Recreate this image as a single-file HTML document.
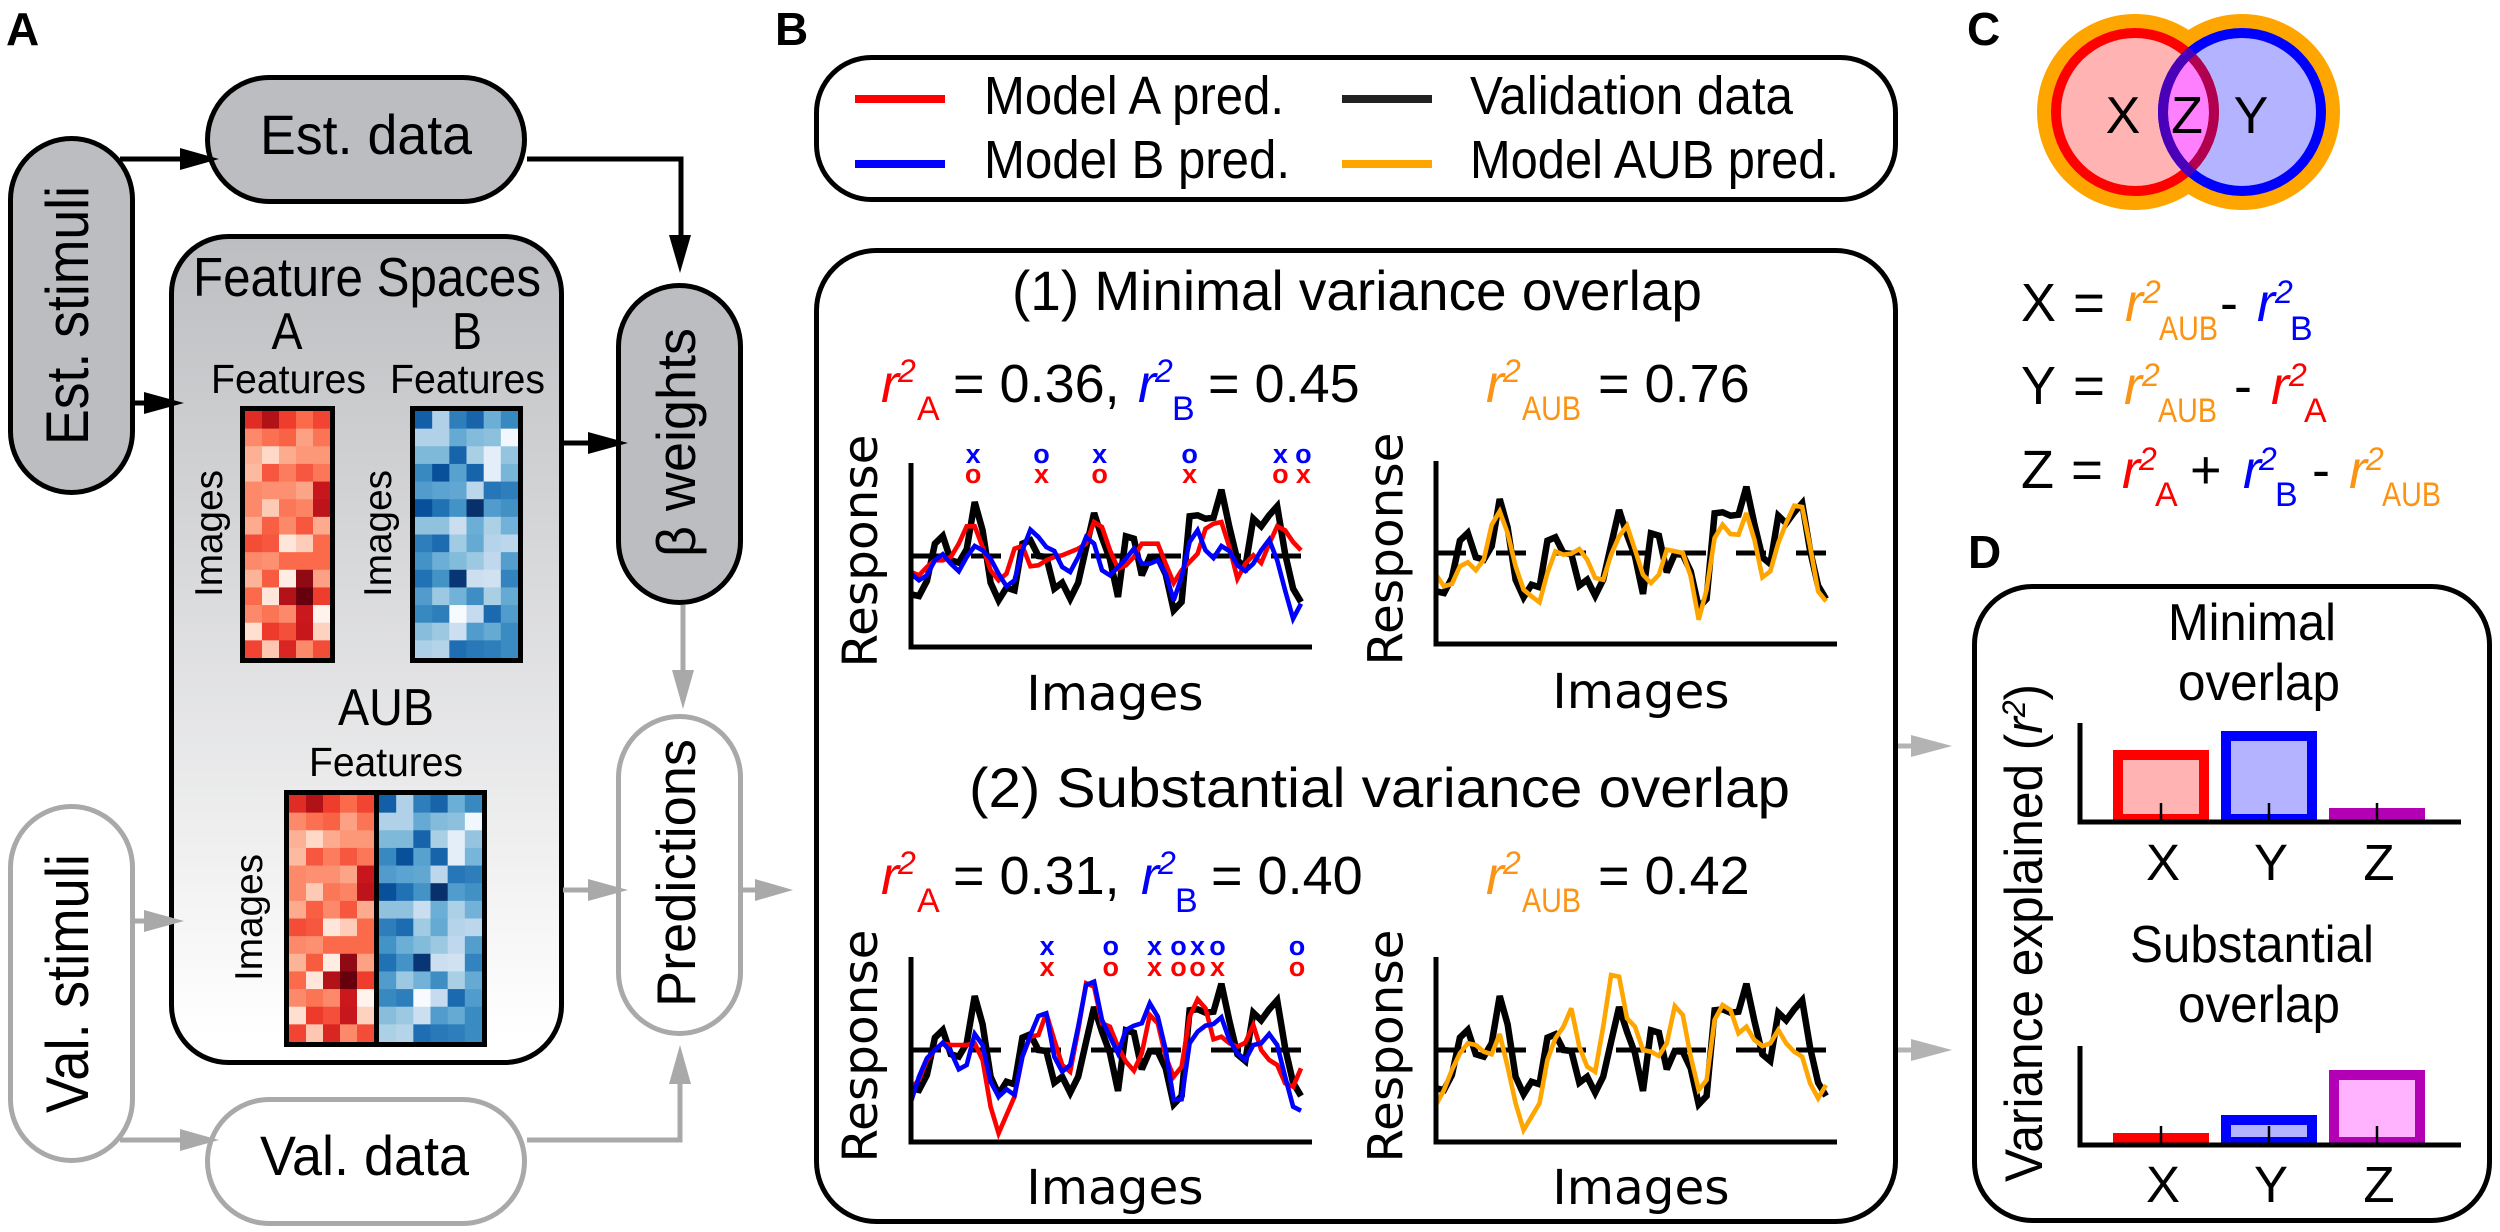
<!DOCTYPE html>
<html lang="en">
<head>
<meta charset="utf-8">
<title>Variance partitioning schematic</title>
<style>
html,body{margin:0;padding:0;background:#fff;}
svg{display:block;}
text{font-family:"Liberation Sans",sans-serif;fill:#000;}
.dj{font-family:"DejaVu Sans",sans-serif;}
.it{font-style:italic;}
.red{fill:#f00;}
.blue{fill:#00f;}
.org{fill:#fb9414;}
</style>
</head>
<body>
<svg id="fig" xmlns="http://www.w3.org/2000/svg" width="2500" height="1232" viewBox="0 0 2500 1232">
<defs>
<linearGradient id="fsGrad" x1="0" y1="0" x2="0" y2="1">
<stop offset="0" stop-color="#bdbec1"/><stop offset="0.97" stop-color="#ffffff"/>
</linearGradient>
<clipPath id="clipRedDisc"><circle cx="2135" cy="112" r="84"/></clipPath>
<clipPath id="clipBlueDisc"><circle cx="2242" cy="112" r="84"/></clipPath>
</defs>

<!-- Panel labels -->
<text x="6" y="45" font-size="46" font-weight="bold">A</text>
<text x="775" y="45" font-size="46" font-weight="bold">B</text>
<text x="1967" y="45" font-size="46" font-weight="bold">C</text>
<text x="1968" y="568" font-size="46" font-weight="bold">D</text>

<!-- Panel A flow -->
<g>
<rect x="171.5" y="236.5" width="390" height="826" rx="57" fill="url(#fsGrad)" stroke="#000" stroke-width="5"/>
<rect x="207.5" y="77.5" width="317" height="124" rx="62" fill="#bcbdc0" stroke="#000" stroke-width="5"/>
<rect x="10.5" y="138.5" width="122" height="354" rx="61" fill="#bcbdc0" stroke="#000" stroke-width="5"/>
<rect x="618.5" y="285.5" width="122" height="317" rx="61" fill="#bcbdc0" stroke="#000" stroke-width="5"/>
<rect x="618.5" y="716.5" width="122" height="317" rx="61" fill="#fff" stroke="#a9a9a9" stroke-width="5"/>
<rect x="10.5" y="806.5" width="122" height="354" rx="61" fill="#fff" stroke="#a9a9a9" stroke-width="5"/>
<rect x="207.5" y="1099.5" width="317" height="124" rx="62" fill="#fff" stroke="#a9a9a9" stroke-width="5"/>

<path d="M120 159H190" fill="none" stroke="#000" stroke-width="5"/>
<polygon points="180,148 219,159 180,170" fill="#000"/>
<path d="M527 159H681V240" fill="none" stroke="#000" stroke-width="5"/>
<polygon points="669,235 691,235 680,273" fill="#000"/>
<path d="M135 403H150" fill="none" stroke="#000" stroke-width="5"/>
<polygon points="144,392 184,403 144,414" fill="#000"/>
<path d="M564 443H595" fill="none" stroke="#000" stroke-width="5"/>
<polygon points="588,432 628,443 588,454" fill="#000"/>
<path d="M683 605V675" fill="none" stroke="#a9a9a9" stroke-width="5"/>
<polygon points="672,670 694,670 683,709" fill="#a9a9a9"/>
<path d="M563 890H595" fill="none" stroke="#a9a9a9" stroke-width="5"/>
<polygon points="588,879 628,890 588,901" fill="#a9a9a9"/>
<path d="M743 890H760" fill="none" stroke="#a9a9a9" stroke-width="5"/>
<polygon points="755,879 793,890 755,901" fill="#a9a9a9"/>
<path d="M135 921H150" fill="none" stroke="#a9a9a9" stroke-width="5"/>
<polygon points="144,910 184,921 144,932" fill="#a9a9a9"/>
<path d="M120 1140H190" fill="none" stroke="#a9a9a9" stroke-width="5"/>
<polygon points="180,1129 219,1140 180,1151" fill="#a9a9a9"/>
<path d="M527 1140H680V1080" fill="none" stroke="#a9a9a9" stroke-width="5"/>
<polygon points="669,1084 691,1084 680,1045" fill="#a9a9a9"/>

<text x="260" y="154" font-size="56" textLength="212" lengthAdjust="spacingAndGlyphs">Est. data</text>
<text transform="translate(88,445) rotate(-90)" font-size="60" textLength="259" lengthAdjust="spacingAndGlyphs">Est. stimuli</text>
<text transform="translate(695,557) rotate(-90)" font-size="55" textLength="229" lengthAdjust="spacingAndGlyphs">β weights</text>
<text transform="translate(695,1007) rotate(-90)" font-size="55" textLength="268" lengthAdjust="spacingAndGlyphs">Predictions</text>
<text transform="translate(88,1113) rotate(-90)" font-size="60" textLength="259" lengthAdjust="spacingAndGlyphs">Val. stimuli</text>
<text x="260" y="1175" font-size="56" textLength="209" lengthAdjust="spacingAndGlyphs">Val. data</text>
<text x="193" y="296" font-size="55" textLength="348" lengthAdjust="spacingAndGlyphs">Feature Spaces</text>
<text x="287" y="349" font-size="52" text-anchor="middle" textLength="31" lengthAdjust="spacingAndGlyphs">A</text>
<text x="467" y="349" font-size="52" text-anchor="middle" textLength="30" lengthAdjust="spacingAndGlyphs">B</text>
<text x="211" y="393" font-size="41" textLength="155" lengthAdjust="spacingAndGlyphs">Features</text>
<text x="390" y="393" font-size="41" textLength="155" lengthAdjust="spacingAndGlyphs">Features</text>
<text transform="translate(222,597) rotate(-90)" font-size="39" textLength="127" lengthAdjust="spacingAndGlyphs">Images</text>
<text transform="translate(391,597) rotate(-90)" font-size="39" textLength="127" lengthAdjust="spacingAndGlyphs">Images</text>
<text x="338" y="725" font-size="52" textLength="96" lengthAdjust="spacingAndGlyphs">AUB</text>
<text x="309" y="776" font-size="41" textLength="154" lengthAdjust="spacingAndGlyphs">Features</text>
<text transform="translate(262,981) rotate(-90)" font-size="39" textLength="127" lengthAdjust="spacingAndGlyphs">Images</text>
<g id="heatmaps"></g>
</g>

<!-- Panel B legend -->
<g>
<rect x="816.5" y="57.5" width="1079" height="142" rx="55" fill="#fff" stroke="#000" stroke-width="5"/>
<rect x="855" y="95" width="90" height="8" fill="#f00"/>
<rect x="855" y="160" width="90" height="8" fill="#00f"/>
<rect x="1342" y="95" width="90" height="8" fill="#222"/>
<rect x="1342" y="160" width="90" height="8" fill="#ffa500"/>
<text x="984" y="114" font-size="54" textLength="300" lengthAdjust="spacingAndGlyphs">Model A pred.</text>
<text x="984" y="178" font-size="54" textLength="306" lengthAdjust="spacingAndGlyphs">Model B pred.</text>
<text x="1470" y="114" font-size="54" textLength="323" lengthAdjust="spacingAndGlyphs">Validation data</text>
<text x="1470" y="178" font-size="54" textLength="369" lengthAdjust="spacingAndGlyphs">Model AUB pred.</text>
</g>

<!-- Panel B main -->
<rect x="816.5" y="250.5" width="1079" height="971" rx="60" fill="#fff" stroke="#000" stroke-width="5"/>
<text x="1012" y="310" font-size="56" textLength="690" lengthAdjust="spacingAndGlyphs">(1) Minimal variance overlap</text>
<text x="969" y="807" font-size="56" textLength="821" lengthAdjust="spacingAndGlyphs">(2) Substantial variance overlap</text>

<g>
<text x="881" y="402" font-size="54" class="it red">r</text><text x="898" y="382" font-size="32" class="it red">2</text><text x="917" y="420" font-size="34" class="red">A</text>
<text x="953" y="402" font-size="54">= 0.36,</text>
<text x="1138" y="402" font-size="54" class="it blue">r</text><text x="1155" y="382" font-size="32" class="it blue">2</text><text x="1172" y="420" font-size="34" class="blue">B</text>
<text x="1208" y="402" font-size="54">= 0.45</text>
</g>
<g>
<text x="1486" y="402" font-size="54" class="it org">r</text><text x="1503" y="382" font-size="32" class="it org">2</text><text x="1522" y="420" font-size="34" class="org" textLength="59" lengthAdjust="spacingAndGlyphs">AUB</text>
<text x="1598" y="402" font-size="54">= 0.76</text>
</g>
<g>
<text x="881" y="894" font-size="54" class="it red">r</text><text x="898" y="874" font-size="32" class="it red">2</text><text x="917" y="912" font-size="34" class="red">A</text>
<text x="953" y="894" font-size="54">= 0.31,</text>
<text x="1141" y="894" font-size="54" class="it blue">r</text><text x="1158" y="874" font-size="32" class="it blue">2</text><text x="1175" y="912" font-size="34" class="blue">B</text>
<text x="1211" y="894" font-size="54">= 0.40</text>
</g>
<g>
<text x="1486" y="894" font-size="54" class="it org">r</text><text x="1503" y="874" font-size="32" class="it org">2</text><text x="1522" y="912" font-size="34" class="org" textLength="59" lengthAdjust="spacingAndGlyphs">AUB</text>
<text x="1598" y="894" font-size="54">= 0.42</text>
</g>
<g id="linePlots"></g>

<!-- Panel C -->
<g>
<circle cx="2135" cy="112" r="98" fill="#ffa500"/>
<circle cx="2242" cy="112" r="98" fill="#ffa500"/>
<circle cx="2135" cy="112" r="79" fill="#ffb3b3"/>
<circle cx="2242" cy="112" r="79" fill="#b3b3ff"/>
<circle cx="2135" cy="112" r="79" fill="#ff80ff" clip-path="url(#clipBlueDisc)"/>
<circle cx="2135" cy="112" r="79" fill="none" stroke="#f00" stroke-width="10"/>
<circle cx="2242" cy="112" r="79" fill="none" stroke="#00f" stroke-width="10"/>
<circle cx="2135" cy="112" r="79" fill="none" stroke="#b0004f" stroke-width="10" clip-path="url(#clipBlueDisc)"/>
<circle cx="2242" cy="112" r="79" fill="none" stroke="#4a00b8" stroke-width="10" clip-path="url(#clipRedDisc)"/>
<text x="2123" y="133" font-size="52" text-anchor="middle">X</text>
<text x="2187" y="133" font-size="52" text-anchor="middle">Z</text>
<text x="2251" y="133" font-size="52" text-anchor="middle">Y</text>
</g>
<g>
<text x="2021" y="321" font-size="54" textLength="35" lengthAdjust="spacingAndGlyphs">X</text><text x="2073" y="321" font-size="54" textLength="32" lengthAdjust="spacingAndGlyphs">=</text>
<text x="2125" y="321" font-size="54" class="it org">r</text><text x="2143" y="303" font-size="32" class="it org">2</text><text x="2159" y="340" font-size="34" class="org" textLength="59" lengthAdjust="spacingAndGlyphs">AUB</text>
<text x="2220" y="321" font-size="54">-</text>
<text x="2257" y="321" font-size="54" class="it blue">r</text><text x="2275" y="303" font-size="32" class="it blue">2</text><text x="2290" y="340" font-size="34" class="blue">B</text>
</g>
<g>
<text x="2021" y="404" font-size="54" textLength="35" lengthAdjust="spacingAndGlyphs">Y</text><text x="2073" y="404" font-size="54" textLength="32" lengthAdjust="spacingAndGlyphs">=</text>
<text x="2124" y="404" font-size="54" class="it org">r</text><text x="2142" y="386" font-size="32" class="it org">2</text><text x="2158" y="422" font-size="34" class="org" textLength="59" lengthAdjust="spacingAndGlyphs">AUB</text>
<text x="2234" y="404" font-size="54">-</text>
<text x="2271" y="404" font-size="54" class="it red">r</text><text x="2289" y="386" font-size="32" class="it red">2</text><text x="2304" y="422" font-size="34" class="red">A</text>
</g>
<g>
<text x="2021" y="488" font-size="54" textLength="33" lengthAdjust="spacingAndGlyphs">Z</text><text x="2071" y="488" font-size="54" textLength="32" lengthAdjust="spacingAndGlyphs">=</text>
<text x="2122" y="488" font-size="54" class="it red">r</text><text x="2139" y="470" font-size="32" class="it red">2</text><text x="2155" y="506" font-size="34" class="red">A</text>
<text x="2190" y="488" font-size="54">+</text>
<text x="2243" y="488" font-size="54" class="it blue">r</text><text x="2259" y="470" font-size="32" class="it blue">2</text><text x="2275" y="506" font-size="34" class="blue">B</text>
<text x="2312" y="488" font-size="54">-</text>
<text x="2349" y="488" font-size="54" class="it org">r</text><text x="2366" y="470" font-size="32" class="it org">2</text><text x="2382" y="506" font-size="34" class="org" textLength="59" lengthAdjust="spacingAndGlyphs">AUB</text>
</g>

<!-- Panel D -->
<rect x="1974.5" y="586.5" width="515" height="634" rx="58" fill="#fff" stroke="#000" stroke-width="5"/>
<path d="M1898 746H1915" stroke="#b3b3b3" stroke-width="5" fill="none"/>
<polygon points="1911,735 1952,746 1911,757" fill="#b3b3b3"/>
<path d="M1898 1050H1915" stroke="#b3b3b3" stroke-width="5" fill="none"/>
<polygon points="1911,1039 1952,1050 1911,1061" fill="#b3b3b3"/>
<text x="2252" y="640" font-size="52" text-anchor="middle" textLength="168" lengthAdjust="spacingAndGlyphs">Minimal</text>
<text x="2259" y="700" font-size="52" text-anchor="middle" textLength="162" lengthAdjust="spacingAndGlyphs">overlap</text>
<text x="2252" y="962" font-size="52" text-anchor="middle" textLength="244" lengthAdjust="spacingAndGlyphs">Substantial</text>
<text x="2259" y="1022" font-size="52" text-anchor="middle" textLength="162" lengthAdjust="spacingAndGlyphs">overlap</text>
<text transform="translate(2042,1182) rotate(-90)" font-size="53" textLength="498" lengthAdjust="spacingAndGlyphs">Variance explained (<tspan class="it">r</tspan><tspan class="it" font-size="32" dy="-17">2</tspan><tspan dy="17">)</tspan></text>
<g id="barPlots"></g>
</svg>

<script>
// Feature matrices (0..1 intensity)
const featuresA = [
[.68,.84,.62,.50,.60],[.40,.48,.52,.33,.47],[.28,.15,.30,.36,.36],[.25,.55,.44,.55,.46],
[.40,.38,.38,.32,.76],[.40,.20,.46,.42,.80],[.30,.53,.40,.55,.30],[.58,.55,.09,.19,.50],
[.40,.38,.50,.50,.50],[.27,.54,.05,.92,.33],[.50,.09,.83,1.0,.62],[.40,.47,.40,.75,.01],
[.13,.63,.57,.76,.17],[.60,.21,.70,.40,.58]];
const featuresB = [
[.82,.32,.70,.80,.50,.66],[.32,.32,.52,.44,.42,.03],[.45,.45,.80,.34,.10,.40],[.66,.88,.56,.80,.10,.47],
[.58,.55,.53,.28,.73,.70],[.88,.75,.62,1.0,.58,.63],[.41,.41,.23,.50,.33,.48],[.70,.77,.37,.52,.30,.28],
[.62,.50,.44,.38,.27,.57],[.75,.62,.98,.22,.20,.68],[.58,.38,.48,.64,.34,.52],[.66,.70,0,.25,.78,.58],
[.43,.38,.22,.58,.52,.65],[.33,.30,.76,.72,.70,.65]];

// Responses per image
const validationData = [-1.15,-1.2,-.75,.37,.6,-.13,-.2,.2,1.62,.77,-.8,-1.33,-.95,-1.03,.37,.47,0,-.03,-.98,-.8,-1.28,-.8,.25,1.29,.55,-.1,-1.23,.59,.52,-.58,-.03,-.05,-.55,-1.63,-1.38,1.19,1.22,1.12,1.15,1.99,.87,-.13,-.33,1.12,.89,1.22,1.49,.07,-.98,-1.38];
const modelA1 = [-.48,-.58,-.33,-.13,-.13,-.03,.37,.89,.89,.27,-.43,-.73,-.53,.22,.30,-.31,-.28,-.13,-.03,.02,.12,.22,.37,1.02,.87,.17,-.38,-.28,-.03,.37,.37,.37,-.23,-.81,-.43,-.18,.07,.82,.97,1.02,.27,-.68,-.23,.02,-.21,.37,.89,.77,.42,.17];
const modelB1 = [-.53,-.73,-.58,-.13,.05,-.23,-.46,-.03,.30,.17,-.08,-.53,-.91,-.73,.17,.79,.57,.27,.15,-.33,-.48,-.03,.57,.37,-.43,-.58,-.33,-.08,.22,-.23,-.23,-.13,-.53,-1.33,-.63,.42,.77,.17,-.06,.30,.15,-.28,-.45,-.23,.17,.49,-.13,-1.03,-1.88,-1.43];
const modelAUB1 = [-.65,-1.0,-.93,-.4,-.28,-.52,-.2,.85,1.25,.6,-.4,-1.1,-1.3,-1.48,-.6,.05,-.05,-.02,.12,-.2,-.75,-.8,-.05,.5,.82,.1,-.65,-.9,-.65,.1,.05,0,-.7,-2.0,-1.1,.45,.85,.57,.55,1.2,.4,-.73,-.55,.3,.9,1.42,1.38,.2,-1.15,-1.45];
const modelA2 = [-1.15,-.9,-.3,0,.2,.15,.15,.15,.2,-.3,-1.7,-2.5,-1.95,-1.4,-.2,.4,.45,1.1,.3,-.45,-.65,.6,2.0,1.9,.8,.7,.1,-.35,-.62,-.1,1.05,.8,-.2,-.8,-.5,1.0,1.52,1.25,.32,.4,.2,.1,.22,.75,0,-.3,-.45,-1.0,-1.1,-.55];
const modelB2 = [-1.55,-.8,-.25,0,.22,-.05,-.58,-.45,.48,.15,-.95,-1.4,-1.18,-1.35,-.2,.45,1.02,1.1,-.2,-.65,-.45,.7,1.95,2.05,.9,.4,-.1,.6,.73,.8,1.4,1.0,0,-1.5,-1.48,.2,.55,.73,.78,.98,.3,-.1,-.3,.15,.2,.48,.15,-.8,-1.7,-1.82];
const modelAUB2 = [-1.65,-1.2,-.6,-.1,.2,.15,-.05,-.13,.48,-.5,-1.6,-2.4,-2.0,-1.6,-.3,.35,.7,1.25,.1,-.5,-.65,.7,2.25,2.2,.95,.7,0,-.05,-.18,.2,1.32,1.05,-.2,-1.2,-.9,.9,1.35,1.2,.5,.7,.3,.12,.2,.6,.2,-.05,-.2,-1.0,-1.45,-1.05];

// Images flagged above the plots
const markerImages1 = [7.8,16.4,23.7,35,46.4,49.3];
const markerBlue1 = ["x","o","x","o","x","o"];
const markerRed1 = ["o","x","o","x","o","x"];
const markerImages2 = [17.1,25.1,30.6,33.6,36,38.5,48.5];
const markerBlue2 = ["x","o","x","o","x","o","o"];
const markerRed2 = ["x","o","x","o","o","x","o"];

// Bars
const barCategories = ["X","Y","Z"];
const minimalBars = [.72,.91,.14];
const substantialBars = [.12,.30,.75];

const NS = "http://www.w3.org/2000/svg";
function mk(tag, attrs, parent){
  const el = document.createElementNS(NS, tag);
  for (const k in attrs) el.setAttribute(k, attrs[k]);
  parent.appendChild(el);
  return el;
}
function ramp(stops, t){
  const p = Math.max(0, Math.min(1, t)) * (stops.length - 1);
  const i = Math.min(Math.floor(p), stops.length - 2), f = p - i;
  const a = stops[i], b = stops[i + 1];
  return "rgb(" + [0,1,2].map(c => Math.round(a[c] + (b[c] - a[c]) * f)).join(",") + ")";
}
const REDS = [[255,245,240],[254,224,210],[252,187,161],[252,146,114],[251,106,74],[239,59,44],[203,24,29],[165,15,21],[103,0,13]];
const BLUES = [[247,251,255],[222,235,247],[198,219,239],[158,202,225],[107,174,214],[66,146,198],[33,113,181],[8,81,156],[8,48,107]];

function drawMatrix(parent, matrix, stops, x, y, w, h, name){
  const rows = matrix.length, cols = matrix[0].length;
  matrix.forEach((row, r) => row.forEach((v, c) => {
    const cell = mk("rect", {x: x + c * w / cols, y: y + r * h / rows, width: w / cols + .4, height: h / rows + .4, fill: ramp(stops, v)}, parent);
    
    
  }));
}
const hm = document.getElementById("heatmaps");
function frame(x, y, w, h, name){
  const f = mk("rect", {x: x - 2.5, y: y - 2.5, width: w + 5, height: h + 5, fill: "none", stroke: "#000", "stroke-width": 5}, hm);
  
  
}
drawMatrix(hm, featuresA, REDS, 245, 411, 85, 247, "heatmap-a");
frame(245, 411, 85, 247, "heatmap-a");
drawMatrix(hm, featuresB, BLUES, 415, 411, 103, 247, "heatmap-b");
frame(415, 411, 103, 247, "heatmap-b");
drawMatrix(hm, featuresA, REDS, 289, 795, 85, 247, "heatmap-aub-a");
drawMatrix(hm, featuresB, BLUES, 379, 795, 103, 247, "heatmap-aub-b");
frame(289, 795, 193, 247, "heatmap-aub");
const sep = mk("rect", {x: 374, y: 795, width: 5, height: 247, fill: "#000"}, hm);



// Line plots
const lp = document.getElementById("linePlots");
const STEP = 7.96, UNIT = 33.33;
function linePlot(cfg){
  const g = mk("g", {}, lp);
  
  
  const xs = i => cfg.x0 + i * STEP;
  const ys = v => cfg.zero - v * UNIT;
  const zero = mk("line", {x1: cfg.x0, x2: cfg.x0 + 391, y1: ys(0), y2: ys(0), stroke: "#000", "stroke-width": 5, "stroke-dasharray": "30 30"}, g);
  
  
  cfg.series.forEach(s => {
    const d = s.values.map((v, i) => (i ? "L" : "M") + xs(i).toFixed(1) + " " + ys(v).toFixed(1)).join("");
    const p = mk("path", {d: d, fill: "none", stroke: s.color, "stroke-width": s.width, "stroke-linejoin": "miter", "stroke-miterlimit": 3}, g);
    
    
  });
  const ax = mk("path", {d: "M" + cfg.x0 + " " + cfg.top + "V" + cfg.bottom + "H" + (cfg.x0 + 401), fill: "none", stroke: "#000", "stroke-width": 5}, g);
  
  
  const yl = mk("text", {transform: "translate(" + cfg.ylabX + "," + cfg.ylabY + ") rotate(-90)", "font-size": 48.5, "text-anchor": "middle", class: "dj"}, g);
  yl.textContent = "Response";
  
  
  const xl = mk("text", {x: cfg.xlabX, y: cfg.xlabY, "font-size": 48.5, "text-anchor": "middle", class: "dj"}, g);
  xl.textContent = "Images";
  
  
  if (cfg.markers) {
    cfg.markers.images.forEach((m, i) => {
      const b = mk("text", {x: xs(m), y: cfg.markers.blueY + 7, "font-size": 27, "font-weight": "bold", "text-anchor": "middle", fill: "#00f", style: "fill:#00f"}, g);
      b.textContent = cfg.markers.blue[i];
      
      
      const r = mk("text", {x: xs(m), y: cfg.markers.redY + 7, "font-size": 27, "font-weight": "bold", "text-anchor": "middle", fill: "#f00", style: "fill:#f00"}, g);
      r.textContent = cfg.markers.red[i];
      
      
    });
  }
}
const blk = {name: "validation-line", color: "#000", width: 6.5, values: validationData};
linePlot({name: "plot-minimal-ab", x0: 911, zero: 556, top: 463, bottom: 647, ylabX: 877, ylabY: 551, xlabX: 1115, xlabY: 710,
  series: [blk, {name: "model-a-line", color: "#f00", width: 4.6, values: modelA1}, {name: "model-b-line", color: "#00f", width: 4.6, values: modelB1}],
  markers: {images: markerImages1, blue: markerBlue1, red: markerRed1, blueY: 456, redY: 476}});
linePlot({name: "plot-minimal-aub", x0: 1436, zero: 553, top: 461, bottom: 644, ylabX: 1402.5, ylabY: 549, xlabX: 1641, xlabY: 708,
  series: [blk, {name: "model-aub-line", color: "#ffa500", width: 4.6, values: modelAUB1}]});
linePlot({name: "plot-substantial-ab", x0: 911, zero: 1050, top: 957, bottom: 1142, ylabX: 877, ylabY: 1046, xlabX: 1115, xlabY: 1204,
  series: [blk, {name: "model-a-line", color: "#f00", width: 4.6, values: modelA2}, {name: "model-b-line", color: "#00f", width: 4.6, values: modelB2}],
  markers: {images: markerImages2, blue: markerBlue2, red: markerRed2, blueY: 948, redY: 969}});
linePlot({name: "plot-substantial-aub", x0: 1436, zero: 1050, top: 957, bottom: 1142, ylabX: 1402.5, ylabY: 1046, xlabX: 1641, xlabY: 1204,
  series: [blk, {name: "model-aub-line", color: "#ffa500", width: 4.6, values: modelAUB2}]});

// Bar charts
const bp = document.getElementById("barPlots");
const BAR_STYLE = [
  {stroke: "#f00", fill: "#ffb3b3"},
  {stroke: "#00f", fill: "#b3b3ff"},
  {stroke: "#b400b4", fill: "#ffb3ff"}
];
function barChart(values, base, top, labelY, name){
  const g = mk("g", {}, bp);
  
  
  const xc = i => 2161 + i * 108;
  const h = v => v * 100;
  values.forEach((v, i) => {
    const H = h(v), S = BAR_STYLE[i];
    const r = mk("rect", {x: xc(i) - 43, y: base - H + 5, width: 86, height: Math.max(H - 8, 0.1), fill: S.fill, stroke: S.stroke, "stroke-width": 10}, g);
    
    
    const t = mk("line", {x1: xc(i), x2: xc(i), y1: base - 19, y2: base, stroke: "#000", "stroke-width": 2.5}, g);
    
    
    const l = mk("text", {x: xc(i) + 2, y: labelY, "font-size": 51, "text-anchor": "middle"}, g);
    l.textContent = barCategories[i];
    
    
  });
  const ax = mk("path", {d: "M2080 " + top + "V" + base + "H2461", fill: "none", stroke: "#000", "stroke-width": 5}, g);
  
  
}
barChart(minimalBars, 822, 723, 880, "minimal-overlap-bars");
barChart(substantialBars, 1145, 1046, 1202, "substantial-overlap-bars");
</script>
</body>
</html>
